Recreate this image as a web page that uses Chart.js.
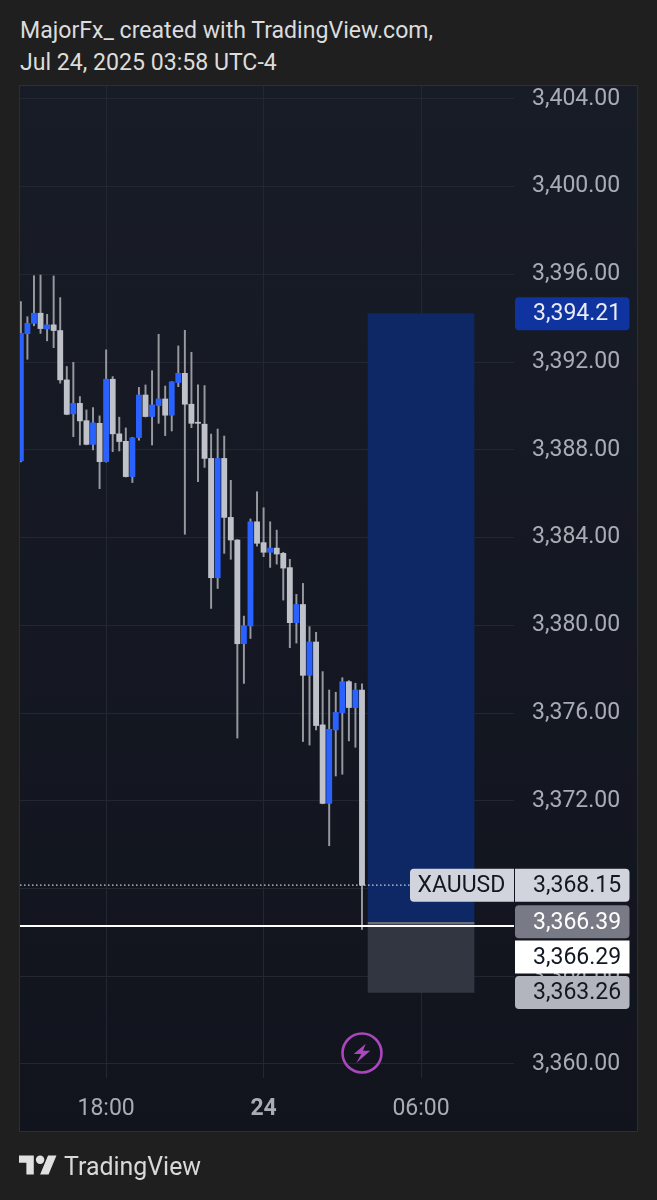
<!DOCTYPE html>
<html>
<head>
<meta charset="utf-8">
<title>XAUUSD</title>
<script src="https://cdn.jsdelivr.net/npm/chart.js@4"></script>
<style>
	html, body { margin: 0; padding: 0; background: #1f1f1f; }
	body { width: 657px; height: 1200px; position: relative; overflow: hidden; font-family: Roboto, sans-serif; }
	#chart { position: absolute; left: 0; top: 0; }
	.head { position: absolute; left: 20px; color: #dcdcdc; font-size: 23.1px; line-height: 32px; white-space: nowrap; }
	#brand { position: absolute; left: 64px; top: 1152px; color: #d8d8d8; font-size: 24.9px; line-height: 30px; }
	#logo { position: absolute; left: 19px; top: 1151px; }
</style>
</head>
<body>
<div class="head" style="top:15px">MajorFx_ created with TradingView.com,</div>
<div class="head" style="top:47px">Jul 24, 2025 03:58 UTC-4</div>
<canvas id="chart" width="657" height="1200"></canvas>
<svg id="logo" width="38" height="30" viewBox="0 0 36 28"><path fill="#e0e0e0" d="M14 22H7V11H0V4h14v18zM28 22h-8l7.5-18h8L28 22z"/><circle fill="#e0e0e0" cx="20" cy="8" r="4"/></svg>
<div id="brand">TradingView</div>
<script>
// 15 min candles, first one sits on the left edge of the panel
const opens = [3387.49, 3393.30, 3393.77, 3394.23, 3393.51, 3393.70, 3393.44, 3391.19, 3389.64, 3390.12,
	3389.33, 3388.25, 3389.21, 3387.46, 3391.22, 3388.73, 3388.39, 3386.78, 3388.56, 3390.50,
	3389.52, 3390.02, 3390.32, 3389.58, 3391.07, 3391.49, 3390.08, 3389.26, 3389.17, 3387.61,
	3382.17, 3387.61, 3384.92, 3383.89, 3379.16, 3379.97, 3384.72, 3383.77, 3383.33, 3383.52,
	3383.28, 3382.63, 3380.12, 3380.95, 3377.72, 3379.24, 3375.46, 3371.88, 3375.23, 3376.02,
	3377.43, 3376.25, 3377.05];
const highs = [3394.76, 3394.07, 3395.94, 3395.97, 3394.18, 3395.93, 3394.94, 3391.80, 3391.99, 3390.43,
	3389.82, 3389.93, 3389.55, 3392.56, 3391.34, 3389.49, 3389.00, 3388.57, 3390.85, 3390.96,
	3391.61, 3393.27, 3390.91, 3391.11, 3392.74, 3393.45, 3392.45, 3390.96, 3390.93, 3388.72,
	3388.95, 3388.63, 3386.61, 3383.91, 3380.42, 3384.85, 3386.09, 3385.36, 3384.72, 3384.34,
	3383.33, 3383.01, 3381.41, 3381.91, 3379.94, 3379.68, 3377.89, 3377.05, 3376.95, 3377.61,
	3377.48, 3377.36, 3377.33];
const lows = [3387.45, 3392.13, 3393.66, 3393.31, 3392.97, 3392.66, 3391.04, 3389.60, 3388.60, 3388.22,
	3388.23, 3388.00, 3386.23, 3387.44, 3387.92, 3387.95, 3386.76, 3386.51, 3388.44, 3389.50,
	3388.22, 3389.21, 3388.65, 3388.86, 3390.88, 3384.15, 3389.01, 3386.55, 3387.20, 3380.77,
	3381.68, 3383.28, 3383.01, 3374.86, 3377.35, 3379.40, 3383.61, 3383.13, 3382.64, 3382.79,
	3381.15, 3378.98, 3379.19, 3374.70, 3374.54, 3375.23, 3371.86, 3369.95, 3373.13, 3373.21,
	3374.73, 3374.44, 3366.14];
const closes = [3393.31, 3393.77, 3394.23, 3393.53, 3393.70, 3393.44, 3391.19, 3389.62, 3390.12, 3389.32,
	3388.25, 3389.23, 3387.46, 3391.22, 3388.73, 3388.38, 3386.78, 3388.55, 3390.50, 3389.52,
	3390.05, 3390.32, 3389.58, 3391.10, 3391.49, 3390.08, 3389.21, 3389.21, 3387.61, 3382.17,
	3387.61, 3384.92, 3383.89, 3379.16, 3379.98, 3384.72, 3383.74, 3383.33, 3383.52, 3383.25,
	3382.61, 3380.12, 3380.95, 3377.72, 3379.24, 3375.43, 3371.88, 3375.26, 3376.03, 3377.43,
	3376.25, 3377.05, 3368.15];

const priceTicks = [3360, 3364, 3368, 3372, 3376, 3380, 3384, 3388, 3392, 3396, 3400, 3404];
const timeTicks = [13, 37, 61];
const timeLabels = ["18:00", "24", "06:00"];

// long position drawing
const positionBar = 61;
const positionTop = 3394.21;
const positionEntry = 3366.39;
const positionStop = 3363.26;

const lastPrice = 3368.15;
const linePrice = 3366.29;

const tagPrices = [3394.21, 3368.15, 3366.39, 3366.29, 3363.26];
const tagShifts = [0, 0, -2, 31, 0];
const tagFills = ["#0f349f", "#d1d4dc", "#787b86", "#ffffff", "#b2b5be"];
const tagInks = ["#e8ecf8", "#131722", "#ffffff", "#131722", "#131722"];

const UP = "#2962ff";
const DOWN = "#c0c2ca";
const WICK = "#97999f";

const candles = opens.map((_, i) => i);
const candleColors = candles.map((i) => (closes[i] >= opens[i] ? UP : DOWN));

function roundBox(ctx, x, y, w, h, radii) {
	ctx.beginPath();
	ctx.roundRect(x, y, w, h, radii);
	ctx.fill();
}

const panelPlugin = {
	id: "panel",
	beforeDraw(chart) {
		const { ctx } = chart;
		const g = ctx.createLinearGradient(0, 85, 0, 1131);
		g.addColorStop(0, "#181c27");
		g.addColorStop(1, "#11141d");
		ctx.save();
		ctx.fillStyle = g;
		ctx.fillRect(20, 85, 617, 1046);
		ctx.strokeStyle = "#2b2e36";
		ctx.lineWidth = 1;
		ctx.strokeRect(19.5, 85.5, 618, 1046);
		ctx.restore();
	},
	afterDraw(chart) {
		const { ctx } = chart;
		const y = chart.scales.y;
		ctx.save();
		ctx.font = "23px Roboto";
		ctx.textBaseline = "middle";
		tagPrices.forEach((p, i) => {
			const cy = y.getPixelForValue(p) + tagShifts[i];
			ctx.fillStyle = tagFills[i];
			const r = i === 3 ? 0 : 4;
			roundBox(ctx, 515, cy - 16.5, 114.5, 33, i === 1 ? [0, r, r, 0] : r);
			ctx.fillStyle = tagInks[i];
			ctx.textAlign = "left";
			ctx.fillText(p.toLocaleString("en-US", { minimumFractionDigits: 2 }), 533, cy + 1);
		});
		// symbol tag next to last price
		const cy = y.getPixelForValue(lastPrice);
		ctx.fillStyle = "#d1d4dc";
		roundBox(ctx, 410, cy - 16.5, 104, 33, [4, 0, 0, 4]);
		ctx.fillStyle = "#131722";
		ctx.fillText("XAUUSD", 417.5, cy + 1);

		// lightning badge
		ctx.strokeStyle = "#ab47bc";
		ctx.lineWidth = 2.6;
		ctx.beginPath();
		ctx.arc(362, 1053, 19.5, 0, Math.PI * 2);
		ctx.stroke();
		ctx.fillStyle = "#ab47bc";
		ctx.beginPath();
		[[3.7, -9.3], [-8.3, 1], [-0.7, 1], [-5.7, 10], [8.3, -2.3], [1, -2.3]].forEach(([dx, dy], i) => {
			if (i === 0) ctx.moveTo(362 + dx, 1053 + dy);
			else ctx.lineTo(362 + dx, 1053 + dy);
		});
		ctx.closePath();
		ctx.fill();
		ctx.restore();
	},
};

new Chart(document.getElementById("chart"), {
	data: {
		datasets: [
			{
				type: "line",
				data: [{ x: -5, y: linePrice }, { x: 100, y: linePrice }],
				borderColor: "#ffffff",
				borderWidth: 1.8,
				pointRadius: 0,
				order: 1,
			},
			{
				type: "line",
				data: [{ x: -5, y: lastPrice }, { x: 59.4, y: lastPrice }],
				borderColor: "#d1d4dc",
				borderWidth: 1.2,
				borderDash: [1.5, 2.5],
				pointRadius: 0,
				order: 2,
			},
			{
				type: "bar",
				data: candles.map((i) => ({ x: i, y: [opens[i], closes[i]] })),
				backgroundColor: candleColors,
				barThickness: 5.2,
				minBarLength: 1,
				grouped: false,
				order: 3,
			},
			{
				type: "bar",
				data: candles.map((i) => ({ x: i, y: [lows[i], highs[i]] })),
				backgroundColor: WICK,
				barThickness: 1.3,
				grouped: false,
				order: 4,
			},
			{
				type: "bar",
				data: [{ x: positionBar, y: [positionEntry, positionEntry + 0.07] }],
				backgroundColor: "#6c6f7a",
				barThickness: 106,
				grouped: false,
				order: 5,
			},
			{
				type: "bar",
				data: [{ x: positionBar, y: [positionEntry, positionTop] }],
				backgroundColor: "#0e2866",
				barThickness: 106,
				grouped: false,
				order: 6,
			},
			{
				type: "bar",
				data: [{ x: positionBar, y: [positionStop, positionEntry] }],
				backgroundColor: "#323640",
				barThickness: 106,
				grouped: false,
				order: 7,
			},
		],
	},
	options: {
		responsive: false,
		animation: false,
		events: [],
		layout: { padding: { left: 20, top: 86, right: 20, bottom: 69 } },
		plugins: { legend: { display: false }, tooltip: { enabled: false } },
		scales: {
			x: {
				type: "linear",
				offset: false,
				min: -0.13,
				max: 75.17,
				grid: { color: "#232731", drawTicks: false, offset: false },
				border: { display: false },
				afterBuildTicks(axis) {
					axis.ticks = timeTicks.map((value) => ({ value }));
				},
				afterFit(axis) {
					axis.height = 53;
				},
				ticks: {
					autoSkip: false,
					maxRotation: 0,
					padding: 17,
					color: "#a9acb5",
					font: (c) => ({
						family: "Roboto",
						size: 23,
						weight: timeLabels[c.index] === "24" ? "bold" : "normal",
					}),
					callback: (v) => timeLabels[timeTicks.indexOf(v)],
				},
			},
			y: {
				position: "right",
				min: 3359.36,
				max: 3404.59,
				grid: { color: "#232731", drawTicks: false },
				border: { display: false },
				afterBuildTicks(axis) {
					axis.ticks = priceTicks.map((value) => ({ value }));
				},
				afterFit(axis) {
					axis.width = 123;
				},
				ticks: {
					padding: 18,
					color: "#a9acb5",
					font: { family: "Roboto", size: 23 },
					callback: (v) => v.toLocaleString("en-US", { minimumFractionDigits: 2 }),
				},
			},
		},
	},
	plugins: [panelPlugin],
});
</script>
</body>
</html>
